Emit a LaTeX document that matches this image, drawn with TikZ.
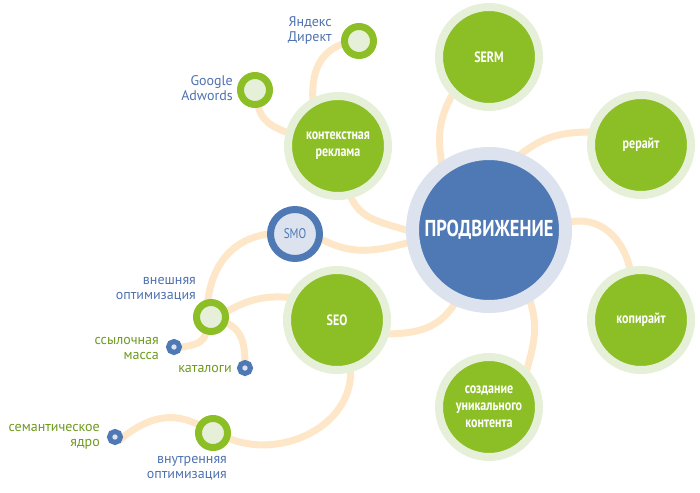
\documentclass[tikz,border=0pt]{standalone}
\usepackage{fontspec}
\setmainfont{PT Sans}
\newfontfamily\condbold{PT Sans}[FakeStretch=0.8]
\usetikzlibrary{backgrounds}
\definecolor{leaf}{HTML}{8CBF26}
\definecolor{leaflight}{HTML}{E6F0D9}
\definecolor{hubblue}{HTML}{4E79B4}
\definecolor{hublight}{HTML}{DCE3EE}
\definecolor{beige}{HTML}{FDE7C8}
\definecolor{txtblue}{HTML}{4F72B0}
\definecolor{txtgreen}{HTML}{6E9A1E}
\tikzset{
  big/.style={circle, inner sep=0pt, minimum size=100pt, fill=leaf, draw=leaflight, line width=8pt,
    text=white, align=center, font=\condbold\bfseries\fontsize{15}{17}\selectfont},
  hubnode/.style={circle, inner sep=0pt, minimum size=153pt, fill=hubblue, draw=hublight, line width=13pt,
    text=white, font=\condbold\bfseries\fontsize{23}{27}\selectfont},
  smonode/.style={circle, inner sep=0pt, minimum size=49pt, fill=hublight, draw=hubblue, line width=7pt,
    text=hubblue, font=\condbold\fontsize{14}{16}\selectfont},
  ringnode/.style={circle, inner sep=0pt, minimum size=29pt, fill=leaflight, draw=leaf, line width=7pt},
  dotnode/.style={circle, inner sep=0pt, minimum size=11pt, fill=hublight, draw=hubblue, line width=5pt},
  conn/.style={draw=beige, line width=7pt, shorten <=-6pt, shorten >=-6pt},
  lblblue/.style={anchor=east, align=right, text=txtblue, inner sep=0pt, font=\fontsize{14}{15}\selectfont},
  lblgreen/.style={anchor=east, align=right, text=txtgreen, inner sep=0pt, font=\fontsize{14}{15}\selectfont},
}
\begin{document}
\begin{tikzpicture}[x=1pt,y=1pt]
\useasboundingbox (0,0) rectangle (700,-492);
% main nodes
\node[hubnode] (hub) at (489,-230) {ПРОДВИЖЕНИЕ};
\node[big] (serm) at (489,-57) {SERM};
\node[big] (rerait) at (641,-145) {рерайт};
\node[big] (kopi) at (641,-320) {копирайт};
\node[big] (sozd) at (489,-407) {создание\\уникального\\контента};
\node[big] (seo) at (337,-320) {SEO};
\node[big] (kont) at (338,-146) {контекстная\\реклама};
\node[smonode] (smo) at (295,-234) {SMO};
\node[ringnode] (yandex) at (359,-41) {};
\node[ringnode] (google) at (255,-90) {};
\node[ringnode] (vnesh) at (211,-317) {};
\node[ringnode] (vnutr) at (213,-433) {};
\node[dotnode] (ssyl) at (174,-347) {};
\node[dotnode] (kat) at (245,-368) {};
\node[dotnode] (sem) at (115,-437) {};
% labels
\node[lblblue] (lyandex) at (332,-30) {Яндекс\\Директ};
\node[lblblue] (lgoogle) at (233,-88) {Google\\Adwords};
\node[lblblue] (lvnesh) at (196,-289.5) {внешняя\\оптимизация};
\node[lblgreen] (lssyl) at (159,-348.5) {ссылочная\\масса};
\node[lblgreen] (lkat) at (232,-369) {каталоги};
\node[lblgreen] (lsem) at (100,-436.5) {семантическое\\ядро};
\node[lblblue] (lvnutr) at (227,-468.5) {внутренняя\\оптимизация};
% connectors
\begin{scope}[on background layer]
\draw[conn] (serm.226) to[out=240,in=100] (hub.125);
\draw[conn] (rerait.166) to[out=180,in=40] (hub.67);
\draw[conn] (hub.6) to[out=15,in=100] (kopi.102);
\draw[conn] (hub.300) to[out=290,in=75] (sozd.45);
\draw[conn] (seo.345) to[out=0,in=240] (hub.245);
\draw[conn] (smo.348) to[out=330,in=195] (hub.189);
\draw[conn] (kont.284) to[out=290,in=160] (hub.180);
\draw[conn] (smo.180) to[out=185,in=85] (vnesh.100);
\draw[conn] (seo.155) to[out=175,in=30] (vnesh.20);
\draw[conn] (vnesh.255) to[out=265,in=10] (ssyl.east);
\draw[conn] (vnesh.340) to[out=340,in=90] (kat.north);
\draw[conn] (seo.285) to[out=275,in=-25] (vnutr.-20);
\draw[conn] (vnutr.150) to[out=150,in=40] (sem.east);
\draw[conn] (google.280) to[out=280,in=160] (kont.165);
\draw[conn] (kont.118) to[out=95,in=195] (yandex.190);
\end{scope}
\end{tikzpicture}
\end{document}
